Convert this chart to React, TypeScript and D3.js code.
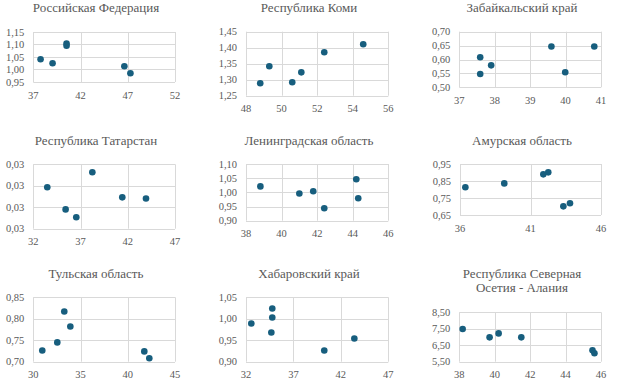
import React from "react";
import * as d3 from "d3";

const panelTitles: string[][] = [
  ["Российская Федерация"],
  ["Республика Коми"],
  ["Забайкальский край"],
  ["Республика Татарстан"],
  ["Ленинградская область"],
  ["Амурская область"],
  ["Тульская область"],
  ["Хабаровский край"],
  ["Республика Северная", "Осетия - Алания"],
];

const xValues: number[][] = [
  [37.77, 39.04, 40.52, 40.52, 46.64, 47.28],
  [48.8, 49.31, 50.6, 51.11, 52.4, 54.59],
  [37.59, 37.59, 37.9, 39.6, 39.99, 40.81],
  [33.48, 35.42, 36.55, 38.25, 41.42, 43.93],
  [38.81, 41.0, 41.78, 42.4, 44.2, 44.31],
  [36.38, 39.14, 41.91, 42.26, 43.33, 43.8],
  [30.95, 32.54, 33.28, 33.92, 41.75, 42.28],
  [32.56, 34.77, 34.77, 34.67, 40.25, 43.42],
  [38.19, 39.71, 40.22, 41.5, 45.52, 45.63],
];

const yValues: number[][] = [
  [1.041, 1.025, 1.104, 1.095, 1.013, 0.985],
  [1.289, 1.342, 1.292, 1.323, 1.386, 1.411],
  [0.608, 0.548, 0.579, 0.647, 0.554, 0.647],
  [0.02793, 0.0269, 0.02653, 0.02863, 0.02746, 0.02741],
  [1.021, 0.996, 1.004, 0.944, 1.046, 0.979],
  [0.813, 0.836, 0.889, 0.901, 0.701, 0.719],
  [0.726, 0.745, 0.817, 0.782, 0.724, 0.708],
  [0.989, 1.024, 1.003, 0.968, 0.926, 0.954],
  [7.49, 6.98, 7.22, 6.98, 6.19, 6.01],
];

const xTicks: number[][] = [
  [37, 42, 47, 52],
  [48, 50, 52, 54, 56],
  [37, 38, 39, 40, 41],
  [32, 37, 42, 47],
  [38, 40, 42, 44, 46],
  [36, 41, 46],
  [30, 35, 40, 45],
  [32, 37, 42, 47],
  [38, 40, 42, 44, 46],
];

const yTicks: number[][] = [
  [0.95, 1.0, 1.05, 1.1, 1.15],
  [1.25, 1.3, 1.35, 1.4, 1.45],
  [0.5, 0.55, 0.6, 0.65, 0.7],
  [0.026, 0.027, 0.028, 0.029],
  [0.9, 0.95, 1.0, 1.05, 1.1],
  [0.65, 0.75, 0.85, 0.95],
  [0.7, 0.75, 0.8, 0.85],
  [0.9, 0.95, 1.0, 1.05],
  [5.5, 6.5, 7.5, 8.5],
];

// layout (positions only)
const layout = [
  { l: 33.3, r: 175, t: 32, b: 82, tx: 96, ty: 12 },
  { l: 246, r: 388.3, t: 31.7, b: 95.7, tx: 309, ty: 12 },
  { l: 459.3, r: 601, t: 31.7, b: 87.3, tx: 522, ty: 12 },
  { l: 33.3, r: 175, t: 164.3, b: 228.7, tx: 96, ty: 144.5 },
  { l: 246, r: 388.3, t: 164, b: 220.7, tx: 309, ty: 144.5 },
  { l: 460, r: 601, t: 164, b: 215, tx: 522, ty: 144.5 },
  { l: 33.3, r: 175, t: 297.3, b: 361.7, tx: 96, ty: 277.7 },
  { l: 246, r: 388.3, t: 297.3, b: 361.7, tx: 309, ty: 277.7 },
  { l: 459.3, r: 601, t: 312.3, b: 361.7, tx: 522, ty: 277.7 },
];

const FONT = "Times New Roman";
const TEXT = "#595959";
const GRID = "#d9d9d9";
const DOT = "#175E7E";

const fmtY = (v: number) => v.toFixed(2).replace(".", ",");

function Panel({ i }: { i: number }) {
  const L = layout[i];
  const xt = xTicks[i];
  const yt = yTicks[i];
  const x = d3.scaleLinear().domain([xt[0], xt[xt.length - 1]]).range([L.l, L.r]);
  const y = d3.scaleLinear().domain([yt[0], yt[yt.length - 1]]).range([L.b, L.t]);
  return (
    <g>
      {panelTitles[i].map((line, k) => (
        <text key={k} x={L.tx} y={L.ty + k * 14} textAnchor="middle" fontSize={13} fill={TEXT} fontFamily={FONT}>
          {line}
        </text>
      ))}
      {xt.map((v) => (
        <line key={"gx" + v} x1={Math.round(x(v)) + 0.5} x2={Math.round(x(v)) + 0.5} y1={L.t} y2={L.b} stroke={GRID} strokeWidth={1} />
      ))}
      {yt.map((v) => (
        <line key={"gy" + v} x1={L.l} x2={L.r} y1={Math.round(y(v)) + 0.5} y2={Math.round(y(v)) + 0.5} stroke={GRID} strokeWidth={1} />
      ))}
      {xt.map((v) => (
        <text key={"xl" + v} x={x(v)} y={L.b + 16.5} textAnchor="middle" fontSize={10.5} fill={TEXT} fontFamily={FONT}>
          {String(v)}
        </text>
      ))}
      {yt.map((v) => (
        <text key={"yl" + v} x={L.l - 9} y={y(v) + 3.6} textAnchor="end" fontSize={10.5} fill={TEXT} fontFamily={FONT}>
          {fmtY(v)}
        </text>
      ))}
      {xValues[i].map((xv, k) => (
        <circle key={"p" + k} cx={x(xv)} cy={y(yValues[i][k])} r={3.3} fill={DOT} />
      ))}
    </g>
  );
}

export default function App() {
  return (
    <svg width={628} height={390} style={{ position: "absolute", left: 0, top: 0, background: "#fff" }}>
      <rect width={628} height={390} fill="#fff" />
      {layout.map((_, i) => (
        <Panel key={i} i={i} />
      ))}
    </svg>
  );
}
